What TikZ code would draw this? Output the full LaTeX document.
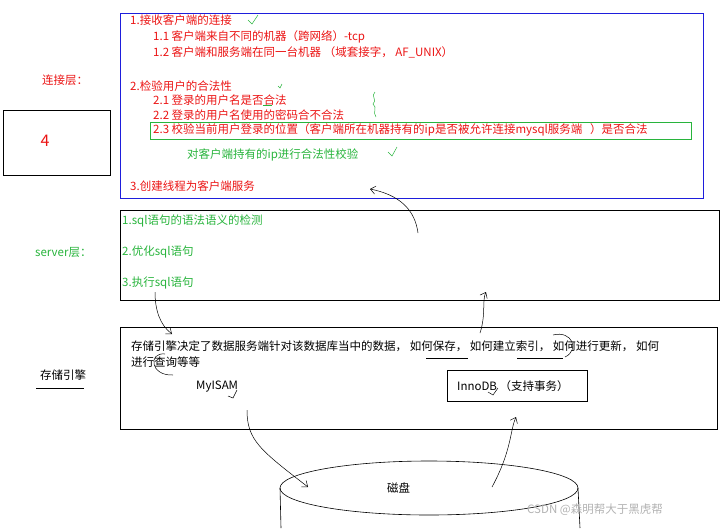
\documentclass[tikz,border=0pt]{standalone}
\usepackage{fontspec}
\setmainfont{Noto Sans CJK SC}
\usetikzlibrary{arrows.meta}
\definecolor{lineRed}{RGB}{235,20,20}
\definecolor{lineGreen}{RGB}{40,180,60}
\definecolor{boxBlue}{RGB}{30,30,220}
\tikzset{
  redtxt/.style={text=lineRed,anchor=west,inner sep=0pt,font=\fontsize{11.5}{13}\selectfont},
  greentxt/.style={text=lineGreen,anchor=west,inner sep=0pt,font=\fontsize{11.5}{13}\selectfont},
  blacktxt/.style={anchor=west,inner sep=0pt,font=\fontsize{11.5}{13}\selectfont},
  hand/.style={line width=0.5pt,-{Straight Barb[length=5pt,width=8pt]}},
  tick/.style={line width=0.5pt,lineGreen},
}
\begin{document}
\begin{tikzpicture}[x=1pt,y=-1pt]
\useasboundingbox (0,0) rectangle (725,528);

% connection layer
\draw[boxBlue] (120,13) rectangle (703,198);
\node[redtxt] (c1) at (130,20) {1.接收客户端的连接};
\node[redtxt] (c11) at (153,37) {1.1 客户端来自不同的机器（跨网络）-tcp};
\node[redtxt] (c12) at (153,52) {1.2 客户端和服务端在同一台机器 （域套接字， AF\_UNIX）};
\node[redtxt] (c2) at (130,86) {2.检验用户的合法性};
\node[redtxt] (c21) at (153,100) {2.1 登录的用户名是否合法};
\node[redtxt] (c22) at (153,115) {2.2 登录的用户名使用的密码合不合法};
\draw[lineGreen,line width=0.8pt] (150,122) rectangle (691,139);
\node[redtxt] (c23) at (153,130) {2.3 校验当前用户登录的位置（客户端所在机器持有的ip是否被允许连接mysql服务端 \ \ ）是否合法};
\node[greentxt] (cnote) at (187,155) {对客户端持有的ip进行合法性校验};
\node[redtxt] (c3) at (130,186) {3.创建线程为客户端服务};
\node[redtxt] (connL) at (42,80) {连接层：};
\draw (3,110) rectangle (110,175);
\node[text=lineRed,font=\fontsize{16}{16}\selectfont] (four) at (45,141) {4};

% ticks and scribbles
\draw[tick] (248,20) -- (252,24) -- (258,15);
\draw[tick] (278,86) -- (280,88) -- (282,84);
\draw[tick] (388,152) -- (392,156) -- (397,147);
\draw[lineGreen,line width=0.5pt] (375,92) .. controls (370,96) and (378,100) .. (373,104) .. controls (378,108) and (372,112) .. (376,117);
\draw[lineGreen,line width=0.5pt] (263,105) -- (272,105);

% server layer
\draw[line width=0.8pt] (120,210) rectangle (719,300);
\node[greentxt] (s1) at (122,221) {1.sql语句的语法语义的检测};
\node[greentxt] (s2) at (122,252) {2.优化sql语句};
\node[greentxt] (s3) at (122,283) {3.执行sql语句};
\node[greentxt] (serverL) at (35,252) {server层：};

% storage engine
\draw[line width=0.8pt] (120,327) rectangle (717,429);
\node[blacktxt] (e1) at (131,346) {存储引擎决定了数据服务端针对该数据库当中的数据， 如何保存， 如何建立索引， 如何进行更新， 如何};
\node[blacktxt] (e2) at (131,362) {进行查询等等};
\node[blacktxt] (myisam) at (196,387) {MyISAM};
\draw[line width=0.8pt] (447,370) rectangle (587,401);
\node[blacktxt] (innodb) at (457,386) {InnoDB （支持事务）};
\node[blacktxt] (engineL) at (40,375) {存储引擎};
\draw[line width=0.5pt] (36,388) -- (84,388);
\draw[line width=0.5pt] (426,358) -- (468,358);
\draw[line width=0.5pt] (517,358) -- (563,358);
\draw[line width=0.5pt] (173,375) .. controls (150,376) and (148,352) .. (165,354);
\draw[line width=0.5pt] (553,335) .. controls (572,330) and (580,350) .. (565,357);
\draw[line width=0.5pt] (228,396) -- (233,398) -- (237,390);
\draw[line width=0.5pt] (488,392) -- (493,395) -- (498,388);

% disk
\draw[line width=0.6pt] (429,488) ellipse[x radius=149,y radius=27];
\draw[line width=0.6pt] (280,488) -- (281,528);
\draw[line width=0.6pt] (578,488) -- (580,528);
\node[blacktxt] (disk) at (387,488) {磁盘};
\node[text=gray!60,anchor=west,inner sep=0pt,font=\fontsize{11.5}{13}\selectfont] (mark) at (527,510) {CSDN @森明帮大于黑虎帮};

% hand arrows
\coordinate (a1) at (418,233);
\coordinate (a1e) at (370,189);
\draw[hand] (a1) .. controls (415,210) and (400,195) .. (a1e);
\coordinate (a2) at (155,292);
\coordinate (a2e) at (172,334);
\draw[hand] (a2) .. controls (155,310) and (160,325) .. (a2e);
\coordinate (a3) at (480,333);
\coordinate (a3e) at (486,292);
\draw[hand] (a3) .. controls (486,315) and (482,300) .. (a3e);
\coordinate (a4) at (247,410);
\coordinate (a4e) at (308,487);
\draw[hand] (a4) .. controls (247,440) and (260,450) .. (a4e);
\coordinate (a5) at (492,487);
\coordinate (a5e) at (516,417);
\draw[hand] (a5) .. controls (512,450) and (510,430) .. (a5e);
\end{tikzpicture}
\end{document}
